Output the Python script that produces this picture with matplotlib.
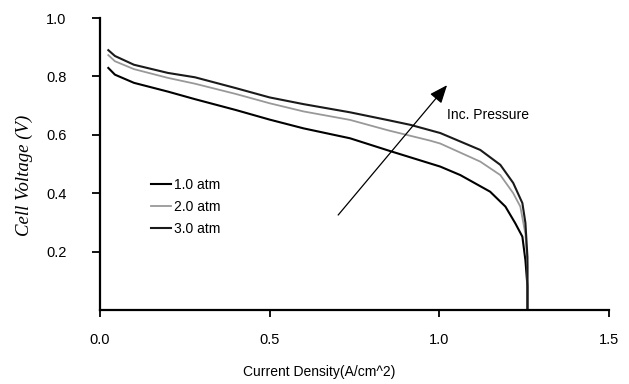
import matplotlib
matplotlib.use("Agg")
import matplotlib.pyplot as plt

# ---- data ----
x_1atm = [0.0245, 0.044, 0.10, 0.20, 0.28, 0.40, 0.50, 0.60, 0.737, 0.853, 1.003, 1.062, 1.150, 1.195, 1.224, 1.245, 1.254, 1.260, 1.260]
v_1atm = [0.829, 0.806, 0.778, 0.748, 0.722, 0.685, 0.652, 0.622, 0.588, 0.545, 0.491, 0.462, 0.405, 0.354, 0.297, 0.251, 0.17, 0.08, 0.0]

x_2atm = [0.0245, 0.044, 0.10, 0.20, 0.28, 0.40, 0.50, 0.60, 0.737, 0.85, 0.973, 1.003, 1.121, 1.180, 1.218, 1.239, 1.254, 1.260, 1.260]
v_2atm = [0.873, 0.852, 0.825, 0.795, 0.775, 0.740, 0.708, 0.680, 0.651, 0.615, 0.580, 0.570, 0.508, 0.462, 0.40, 0.354, 0.26, 0.15, 0.0]

x_3atm = [0.0245, 0.044, 0.10, 0.20, 0.28, 0.40, 0.50, 0.60, 0.737, 0.85, 0.915, 1.003, 1.121, 1.180, 1.218, 1.245, 1.254, 1.260, 1.260]
v_3atm = [0.890, 0.870, 0.840, 0.812, 0.797, 0.760, 0.728, 0.705, 0.677, 0.650, 0.634, 0.606, 0.548, 0.497, 0.435, 0.366, 0.298, 0.18, 0.0]

labels = ["1.0 atm", "2.0 atm", "3.0 atm"]
x_ticks = [0.0, 0.5, 1.0, 1.5]
y_ticks = [0.2, 0.4, 0.6, 0.8, 1.0]

fig = plt.figure(figsize=(6.29, 3.84), dpi=100)
ax = fig.add_axes([0.159, 0.193, 0.809, 0.760])

ax.plot(x_1atm, v_1atm, color="#000000", lw=1.5, label=labels[0])
ax.plot(x_2atm, v_2atm, color="#999999", lw=1.3, label=labels[1])
ax.plot(x_3atm, v_3atm, color="#1a1a1a", lw=1.5, label=labels[2])

ax.set_xlim(0, 1.5)
ax.set_ylim(0, 1.0)
ax.set_xticks(x_ticks)
ax.set_xticklabels([f"{t:.1f}" for t in x_ticks])
ax.set_yticks(y_ticks)
ax.set_yticklabels([f"{t:.1f}" for t in y_ticks])

for s in ["top", "right"]:
    ax.spines[s].set_visible(False)
for s in ["left", "bottom"]:
    ax.spines[s].set_linewidth(1.6)
    ax.spines[s].set_color("black")

ax.tick_params(axis="y", direction="out", length=6, width=1.3, pad=18)
ax.tick_params(axis="x", direction="out", length=5, width=1.3, pad=12)
for lab in ax.get_xticklabels() + ax.get_yticklabels():
    lab.set_fontfamily(["Liberation Sans", "DejaVu Sans"])
    lab.set_fontsize(10.5)

ax.set_xlabel("Current Density(A/cm^2)", fontsize=10,
              fontfamily=["Liberation Sans", "DejaVu Sans"])
ax.xaxis.set_label_coords(0.43, -0.19)
ax.set_ylabel("Cell Voltage (V)", fontsize=13.5, fontstyle="italic",
              fontfamily=["Liberation Serif", "DejaVu Serif"])
ax.yaxis.set_label_coords(-0.132, 0.46)

leg = ax.legend(loc="upper left", bbox_to_anchor=(0.09, 0.47), frameon=False,
                handlelength=1.4, handletextpad=0.25, labelspacing=0.55,
                borderaxespad=0,
                prop={"family": ["Liberation Sans", "DejaVu Sans"], "size": 10})

ax.annotate("", xy=(1.023, 0.77), xytext=(0.702, 0.325),
            arrowprops=dict(arrowstyle="-|>,head_length=1.1,head_width=0.45",
                            color="black", lw=0.9, shrinkA=0, shrinkB=0))
ax.text(1.024, 0.668, "Inc. Pressure", fontsize=10, va="center", ha="left",
        fontfamily=["Liberation Sans", "DejaVu Sans"])

fig.savefig("out.png", dpi=100)
